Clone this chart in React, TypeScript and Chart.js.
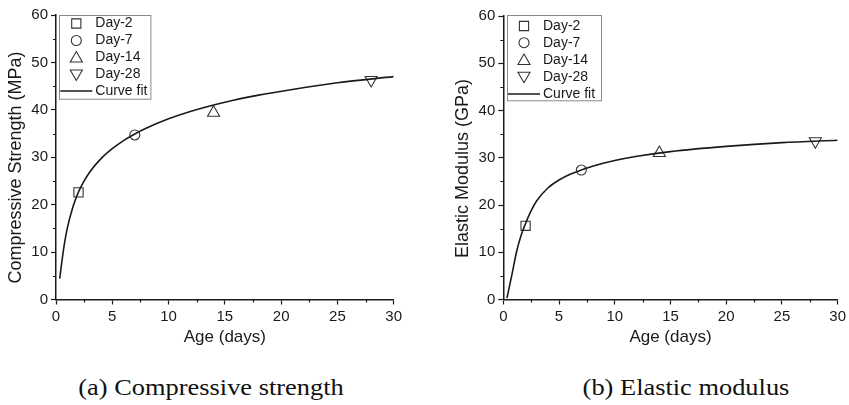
import React, { useEffect, useRef } from "react";
import { Chart, registerables } from "chart.js";

Chart.register(...registerables);

// ---- Data ----
const markerLabels = ["Day-2", "Day-7", "Day-14", "Day-28"];
const markerDays = [2, 7, 14, 28];

const strengthValues = [22.6, 34.7, 39.4, 46.3];
const strengthFitX = [0.33, 0.5, 0.75, 1, 1.5, 2, 2.5, 3, 4, 5, 6, 7, 8, 10, 12, 15, 18, 21, 25, 30];
const strengthFitY = [4.4, 7.6, 11.8, 15.0, 19.5, 22.7, 25.0, 26.9, 29.7, 31.8, 33.5, 34.9, 36.1, 38.1, 39.7, 41.6, 43.1, 44.3, 45.7, 47.0];

const modulusValues = [15.6, 27.4, 31.0, 33.5];
const modulusFitX = [0.33, 0.75, 1.2, 1.6, 2, 2.5, 3, 4, 5, 6, 7, 8, 10, 12, 15, 20, 25, 30];
const modulusFitY = [0.3, 5.0, 10.2, 13.6, 16.1, 18.8, 20.9, 23.6, 25.3, 26.5, 27.4, 28.2, 29.4, 30.3, 31.3, 32.4, 33.2, 33.7];

const xTicksMax = 30;
const yTicksMax = 60;

const pointStyles = ["rect", "circle", "triangle", "triangle"];
const pointRotations = [0, 0, 0, 180];
const pointRadii = [6.5, 5, 7, 7];

const FONT = "'Liberation Sans', Arial, sans-serif";
const INK = "#1a1a1a";

type PanelCfg = {
  yTitle: string;
  values: number[];
  fitX: number[];
  fitY: number[];
  yWidth: number;
  padRight: number;
  padTop: number;
  titleX: number;
  titleY: number;
  legend: { left: number; top: number; w: number; h: number; rows: number[] };
};

function drawMarker(ctx: CanvasRenderingContext2D, style: string, rot: number, r: number, x: number, y: number) {
  ctx.beginPath();
  if (style === "rect") {
    const s = Math.SQRT1_2 * r;
    ctx.rect(x - s, y - s, 2 * s, 2 * s);
  } else if (style === "circle") {
    ctx.arc(x, y, r, 0, Math.PI * 2);
  } else {
    let a = (rot * Math.PI) / 180;
    ctx.moveTo(x + Math.sin(a) * r, y - Math.cos(a) * r);
    a += (2 * Math.PI) / 3;
    ctx.lineTo(x + Math.sin(a) * r, y - Math.cos(a) * r);
    a += (2 * Math.PI) / 3;
    ctx.lineTo(x + Math.sin(a) * r, y - Math.cos(a) * r);
    ctx.closePath();
  }
  ctx.stroke();
}

function makePlugin(cfg: PanelCfg) {
  return {
    id: "extras",
    afterDraw(chart: any) {
      const ctx: CanvasRenderingContext2D = chart.ctx;
      const area = chart.chartArea;
      const xs = chart.scales.x;
      const ys = chart.scales.y;
      ctx.save();
      // minor ticks
      ctx.strokeStyle = INK;
      ctx.lineWidth = 1.2;
      ctx.beginPath();
      for (let v = 2.5; v < xTicksMax; v += 5) {
        const px = Math.round(xs.getPixelForValue(v)) + 0.5;
        ctx.moveTo(px, area.bottom);
        ctx.lineTo(px, area.bottom + 3);
      }
      for (let v = 5; v < yTicksMax; v += 10) {
        const py = Math.round(ys.getPixelForValue(v)) + 0.5;
        ctx.moveTo(area.left, py);
        ctx.lineTo(area.left - 3, py);
      }
      ctx.stroke();

      // y axis title
      ctx.save();
      ctx.translate(cfg.titleX, cfg.titleY);
      ctx.rotate(-Math.PI / 2);
      ctx.font = `18px ${FONT}`;
      ctx.fillStyle = INK;
      ctx.textAlign = "center";
      ctx.textBaseline = "middle";
      ctx.fillText(cfg.yTitle, 0, 0);
      ctx.restore();

      // legend
      const L = cfg.legend;
      const bx = area.left + L.left;
      const by = area.top + L.top;
      ctx.fillStyle = "#ffffff";
      ctx.fillRect(bx, by, L.w, L.h);
      ctx.strokeStyle = "#8a8a8a";
      ctx.lineWidth = 1;
      ctx.strokeRect(Math.round(bx) + 0.5, Math.round(by) + 0.5, L.w, L.h);
      ctx.font = `14px ${FONT}`;
      ctx.textBaseline = "middle";
      ctx.textAlign = "left";
      const labels = [...markerLabels, "Curve fit"];
      labels.forEach((lab, i) => {
        const ry = by + L.rows[i];
        if (i < markerLabels.length) {
          ctx.strokeStyle = "#333";
          ctx.lineWidth = 1.1;
          drawMarker(ctx, pointStyles[i], pointRotations[i], pointRadii[i], bx + 17, ry + (i === 2 ? 1 : i === 3 ? -1 : 0));
        } else {
          ctx.strokeStyle = INK;
          ctx.lineWidth = 1.5;
          ctx.beginPath();
          ctx.moveTo(bx + 1, ry);
          ctx.lineTo(bx + 33, ry);
          ctx.stroke();
        }
        ctx.fillStyle = INK;
        ctx.fillText(lab, bx + 36, ry);
      });
      ctx.restore();
    },
  };
}

function Panel({ cfg, width, height, left }: { cfg: PanelCfg; width: number; height: number; left: number }) {
  const ref = useRef<HTMLCanvasElement | null>(null);
  useEffect(() => {
    if (!ref.current) return;
    const markerSets = markerLabels.map((lab, i) => ({
      label: lab,
      type: "scatter" as const,
      data: [{ x: markerDays[i], y: cfg.values[i] }],
      pointStyle: pointStyles[i],
      rotation: pointRotations[i],
      pointRadius: pointRadii[i],
      pointBorderColor: "#333",
      pointBackgroundColor: "rgba(0,0,0,0)",
      pointBorderWidth: 1.1,
      showLine: false,
    }));
    const fit = {
      label: "Curve fit",
      type: "line" as const,
      data: cfg.fitX.map((x, i) => ({ x, y: cfg.fitY[i] })),
      borderColor: INK,
      borderWidth: 1.6,
      pointRadius: 0,
      cubicInterpolationMode: "monotone" as const,
      fill: false,
    };
    const chart = new Chart(ref.current, {
      type: "scatter",
      data: { datasets: [fit, ...markerSets] as any },
      options: {
        animation: false,
        responsive: false,
        maintainAspectRatio: false,
        layout: { padding: { left: 0, right: cfg.padRight, top: cfg.padTop, bottom: 0 } },
        plugins: { legend: { display: false }, tooltip: { enabled: false } },
        scales: {
          x: {
            type: "linear",
            min: 0,
            max: xTicksMax,
            ticks: { stepSize: 5, color: INK, font: { family: FONT, size: 15 }, padding: 3, maxRotation: 0 },
            grid: { display: true, drawOnChartArea: false, drawTicks: true, tickLength: 5, color: INK, tickWidth: 1.2 },
            border: { display: true, color: INK, width: 1.5 },
            title: { display: true, text: "Age (days)", color: INK, font: { family: FONT, size: 17 }, padding: { top: 0, bottom: 2 } },
            afterFit: (s: any) => {
              s.height = height - 299.5;
            },
          },
          y: {
            type: "linear",
            min: 0,
            max: yTicksMax,
            ticks: { stepSize: 10, color: INK, font: { family: FONT, size: 15 }, padding: 3 },
            grid: { display: true, drawOnChartArea: false, drawTicks: true, tickLength: 5, color: INK, tickWidth: 1.2 },
            border: { display: true, color: INK, width: 1.5 },
            title: { display: false, text: cfg.yTitle },
            afterFit: (s: any) => {
              s.width = cfg.yWidth;
            },
          },
        },
      },
      plugins: [makePlugin(cfg)],
    });
    return () => chart.destroy();
  }, [cfg, width, height]);
  return (
    <canvas
      ref={ref}
      width={width}
      height={height}
      style={{ position: "absolute", left, top: 0, width, height }}
    />
  );
}

const leftCfg: PanelCfg = {
  yTitle: "Compressive Strength (MPa)",
  values: strengthValues,
  fitX: strengthFitX,
  fitY: strengthFitY,
  yWidth: 56,
  padRight: 31.3,
  padTop: 15,
  titleX: 16,
  titleY: 167.5,
  legend: { left: 3.3, top: 0, w: 91.4, h: 83.7, rows: [8.5, 25.5, 42.5, 59.5, 76] },
};

const rightCfg: PanelCfg = {
  yTitle: "Elastic Modulus (GPa)",
  values: modulusValues,
  fitX: modulusFitX,
  fitY: modulusFitY,
  yWidth: 73.3,
  padRight: 9.3,
  padTop: 16,
  titleX: 33.3,
  titleY: 168.5,
  legend: { left: 3.7, top: -1.3, w: 94, h: 85.3, rows: [11.3, 28, 45.3, 62, 79.3] },
};

export default function App() {
  const captionStyle: React.CSSProperties = {
    position: "absolute",
    top: 373,
    fontFamily: "'Liberation Serif', 'Times New Roman', serif",
    fontSize: 24,
    lineHeight: "28px",
    color: "#111",
    whiteSpace: "nowrap",
    transform: "translateX(-55%) scaleX(1.1)",
    transformOrigin: "0 0",
  };
  return (
    <div style={{ position: "fixed", left: 0, top: 0, width: 849, height: 405, background: "#fff", overflow: "hidden" }}>
      <Panel cfg={leftCfg} width={425} height={350} left={0} />
      <Panel cfg={rightCfg} width={419} height={350} left={430} />
      <div style={{ ...captionStyle, left: 211 }}>(a) Compressive strength</div>
      <div style={{ ...captionStyle, left: 686 }}>(b) Elastic modulus</div>
    </div>
  );
}
